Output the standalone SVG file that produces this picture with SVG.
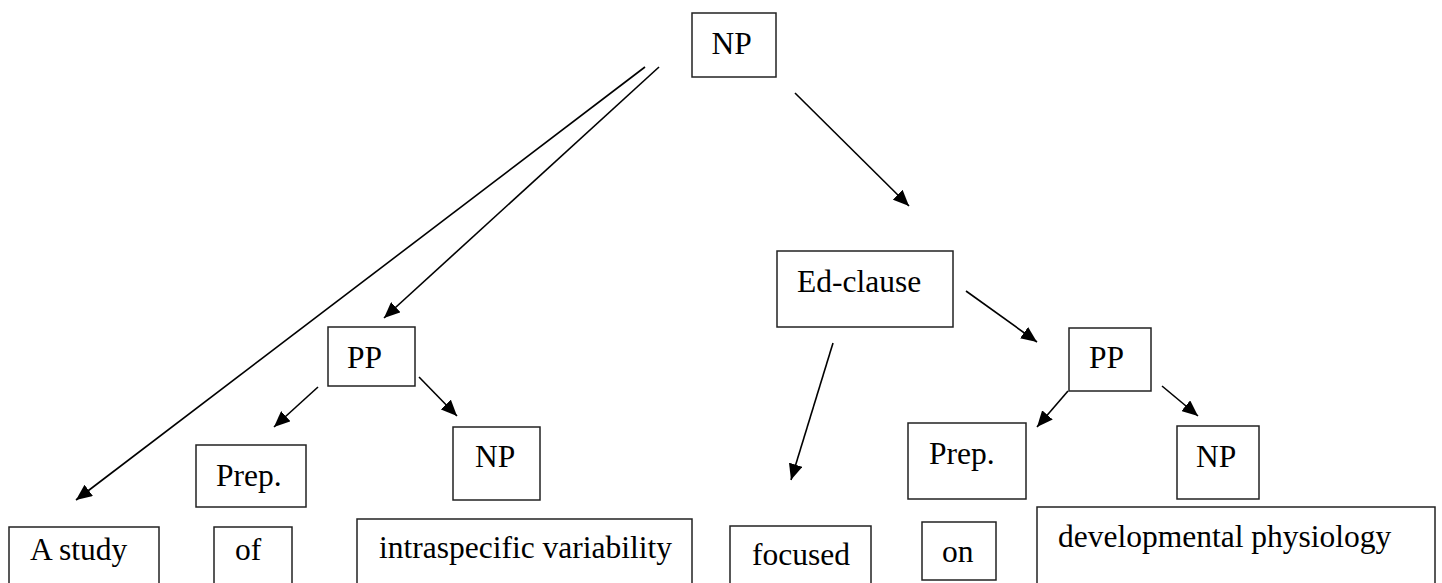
<svg xmlns="http://www.w3.org/2000/svg" width="1442" height="583" viewBox="0 0 1442 583">
<style>
.box{fill:#fff;stroke:#222;stroke-width:1.5}
.t{font-family:"Liberation Serif","Times New Roman",serif;font-size:31.5px;fill:#000}
.c{stroke:#000;stroke-width:1.6;fill:none;marker-end:url(#ah)}
</style>
<defs>
<marker id="ah" markerUnits="userSpaceOnUse" markerWidth="17" markerHeight="14" refX="16" refY="7" orient="auto">
<path d="M0,0 L16,7 L0,14 z" fill="#000"/>
</marker>
</defs>
<rect width="1442" height="583" fill="#fff"/>
<g id="connectors">
<line class="c" x1="645" y1="67" x2="76" y2="500"/>
<line class="c" x1="659" y1="67" x2="384" y2="318"/>
<line class="c" x1="795" y1="93" x2="909" y2="206"/>
<line class="c" x1="318" y1="387" x2="274" y2="427"/>
<line class="c" x1="419" y1="377" x2="457" y2="416"/>
<line class="c" x1="966" y1="291" x2="1037" y2="342"/>
<line class="c" x1="833" y1="343" x2="791" y2="480"/>
<line class="c" x1="1068" y1="391" x2="1037" y2="427"/>
<line class="c" x1="1162" y1="386" x2="1198" y2="416"/>
</g>
<g id="np-top"><rect class="box" x="692" y="13" width="84" height="64"/><text class="t" x="711.5" y="53.5">NP</text></g>
<g id="pp-left"><rect class="box" x="328" y="327" width="87" height="59"/><text class="t" x="347" y="368">PP</text></g>
<g id="prep-left"><rect class="box" x="196" y="445" width="110" height="62"/><text class="t" x="216" y="486">Prep.</text></g>
<g id="np-left"><rect class="box" x="453" y="427" width="87" height="73"/><text class="t" x="475" y="466.5">NP</text></g>
<g id="a-study"><rect class="box" x="9" y="527" width="150" height="70"/><text class="t" x="30" y="560">A study</text></g>
<g id="of"><rect class="box" x="214" y="527" width="78" height="70"/><text class="t" x="235" y="560">of</text></g>
<g id="intraspecific"><rect class="box" x="357" y="519" width="335" height="78"/><text class="t" x="379" y="558">intraspecific variability</text></g>
<g id="ed-clause"><rect class="box" x="777" y="251" width="176" height="76"/><text class="t" x="797" y="292">Ed-clause</text></g>
<g id="pp-right"><rect class="box" x="1069" y="328" width="82" height="63"/><text class="t" x="1089" y="368">PP</text></g>
<g id="prep-right"><rect class="box" x="908" y="423" width="118" height="76"/><text class="t" x="929" y="463.5">Prep.</text></g>
<g id="np-right"><rect class="box" x="1177" y="426" width="82" height="73"/><text class="t" x="1196" y="466.5">NP</text></g>
<g id="focused"><rect class="box" x="730" y="526" width="141" height="70"/><text class="t" x="752" y="565">focused</text></g>
<g id="on"><rect class="box" x="922" y="522" width="74" height="58"/><text class="t" x="942" y="561.5">on</text></g>
<g id="developmental"><rect class="box" x="1037" y="507" width="398" height="90"/><text class="t" x="1058" y="547">developmental physiology</text></g>
</svg>
